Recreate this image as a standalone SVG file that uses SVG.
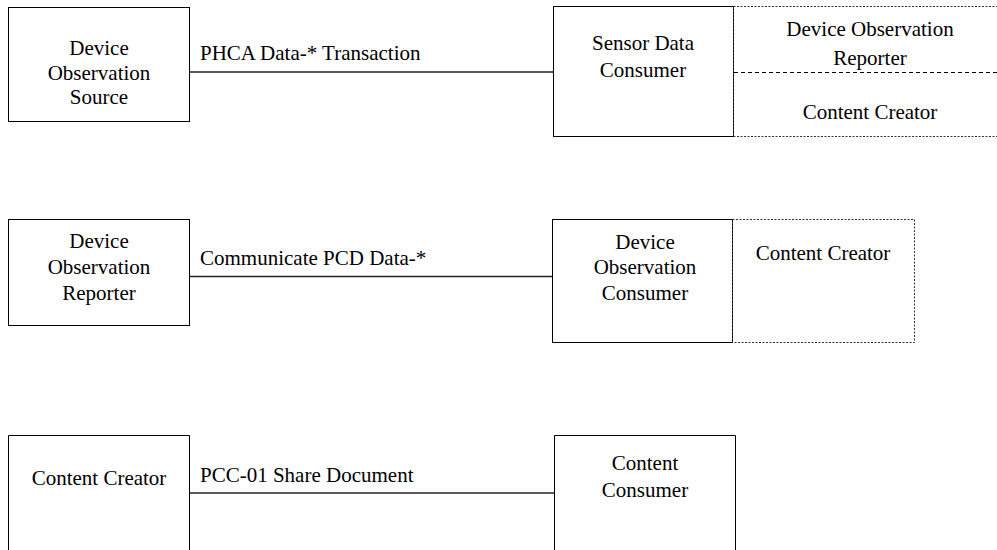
<svg xmlns="http://www.w3.org/2000/svg" width="997" height="550" viewBox="0 0 997 550">
<style>
text{font-family:"Liberation Serif","Times New Roman",serif;font-size:21px;fill:#000}
.c{text-anchor:middle}
.box{fill:#fff;stroke:#000;stroke-width:1}
.dbox{fill:none;stroke:#333;stroke-width:1;stroke-dasharray:2 1.5}
.dl{stroke:#000;stroke-width:1;stroke-dasharray:4 3}
.conn{stroke:#222;stroke-width:1.3;fill:none}
</style>
<rect width="997" height="550" fill="#fff"/>
<g id="connectors">
<line class="conn" x1="190" y1="72" x2="553" y2="72"/>
<line class="conn" x1="190" y1="276.5" x2="552" y2="276.5"/>
<line class="conn" x1="190" y1="493" x2="554" y2="493"/>
</g>
<g id="labels">
<text x="200" y="60">PHCA Data-* Transaction</text>
<text x="200" y="265">Communicate PCD Data-*</text>
<text x="200" y="482">PCC-01 Share Document</text>
</g>
<g id="device-observation-source">
<rect class="box" x="8.5" y="7.5" width="181" height="114"/>
<text class="c" x="99" y="55">Device</text>
<text class="c" x="99" y="80">Observation</text>
<text class="c" x="99" y="104">Source</text>
</g>
<g id="sensor-data-consumer">
<rect class="box" x="553.5" y="6.5" width="180" height="130"/>
<text class="c" x="643" y="50">Sensor Data</text>
<text class="c" x="643" y="77">Consumer</text>
</g>
<g id="sensor-grouped-actors">
<path class="dbox" d="M733.5 6.5 H997 M733.5 6.5 V136.5 M733.5 136.5 H997"/>
<line class="dl" x1="734" y1="72.5" x2="997" y2="72.5"/>
<text class="c" x="870" y="36">Device Observation</text>
<text class="c" x="870" y="65">Reporter</text>
<text class="c" x="870" y="119">Content Creator</text>
</g>
<g id="device-observation-reporter">
<rect class="box" x="8.5" y="219.5" width="181" height="106"/>
<text class="c" x="99" y="248">Device</text>
<text class="c" x="99" y="274">Observation</text>
<text class="c" x="99" y="300">Reporter</text>
</g>
<g id="device-observation-consumer">
<rect class="box" x="552.5" y="219.5" width="180" height="123"/>
<text class="c" x="645" y="249">Device</text>
<text class="c" x="645" y="274">Observation</text>
<text class="c" x="645" y="300">Consumer</text>
</g>
<g id="consumer-grouped-actor">
<rect class="dbox" x="732.5" y="219.5" width="182" height="123"/>
<text class="c" x="823" y="260">Content Creator</text>
</g>
<g id="content-creator">
<path class="box" d="M8.5 551 V435.5 H189.5 V551"/>
<text class="c" x="99" y="485">Content Creator</text>
</g>
<g id="content-consumer">
<path class="box" d="M554.5 551 V435.5 H735.5 V551"/>
<text class="c" x="645" y="470">Content</text>
<text class="c" x="645" y="497">Consumer</text>
</g>
</svg>
